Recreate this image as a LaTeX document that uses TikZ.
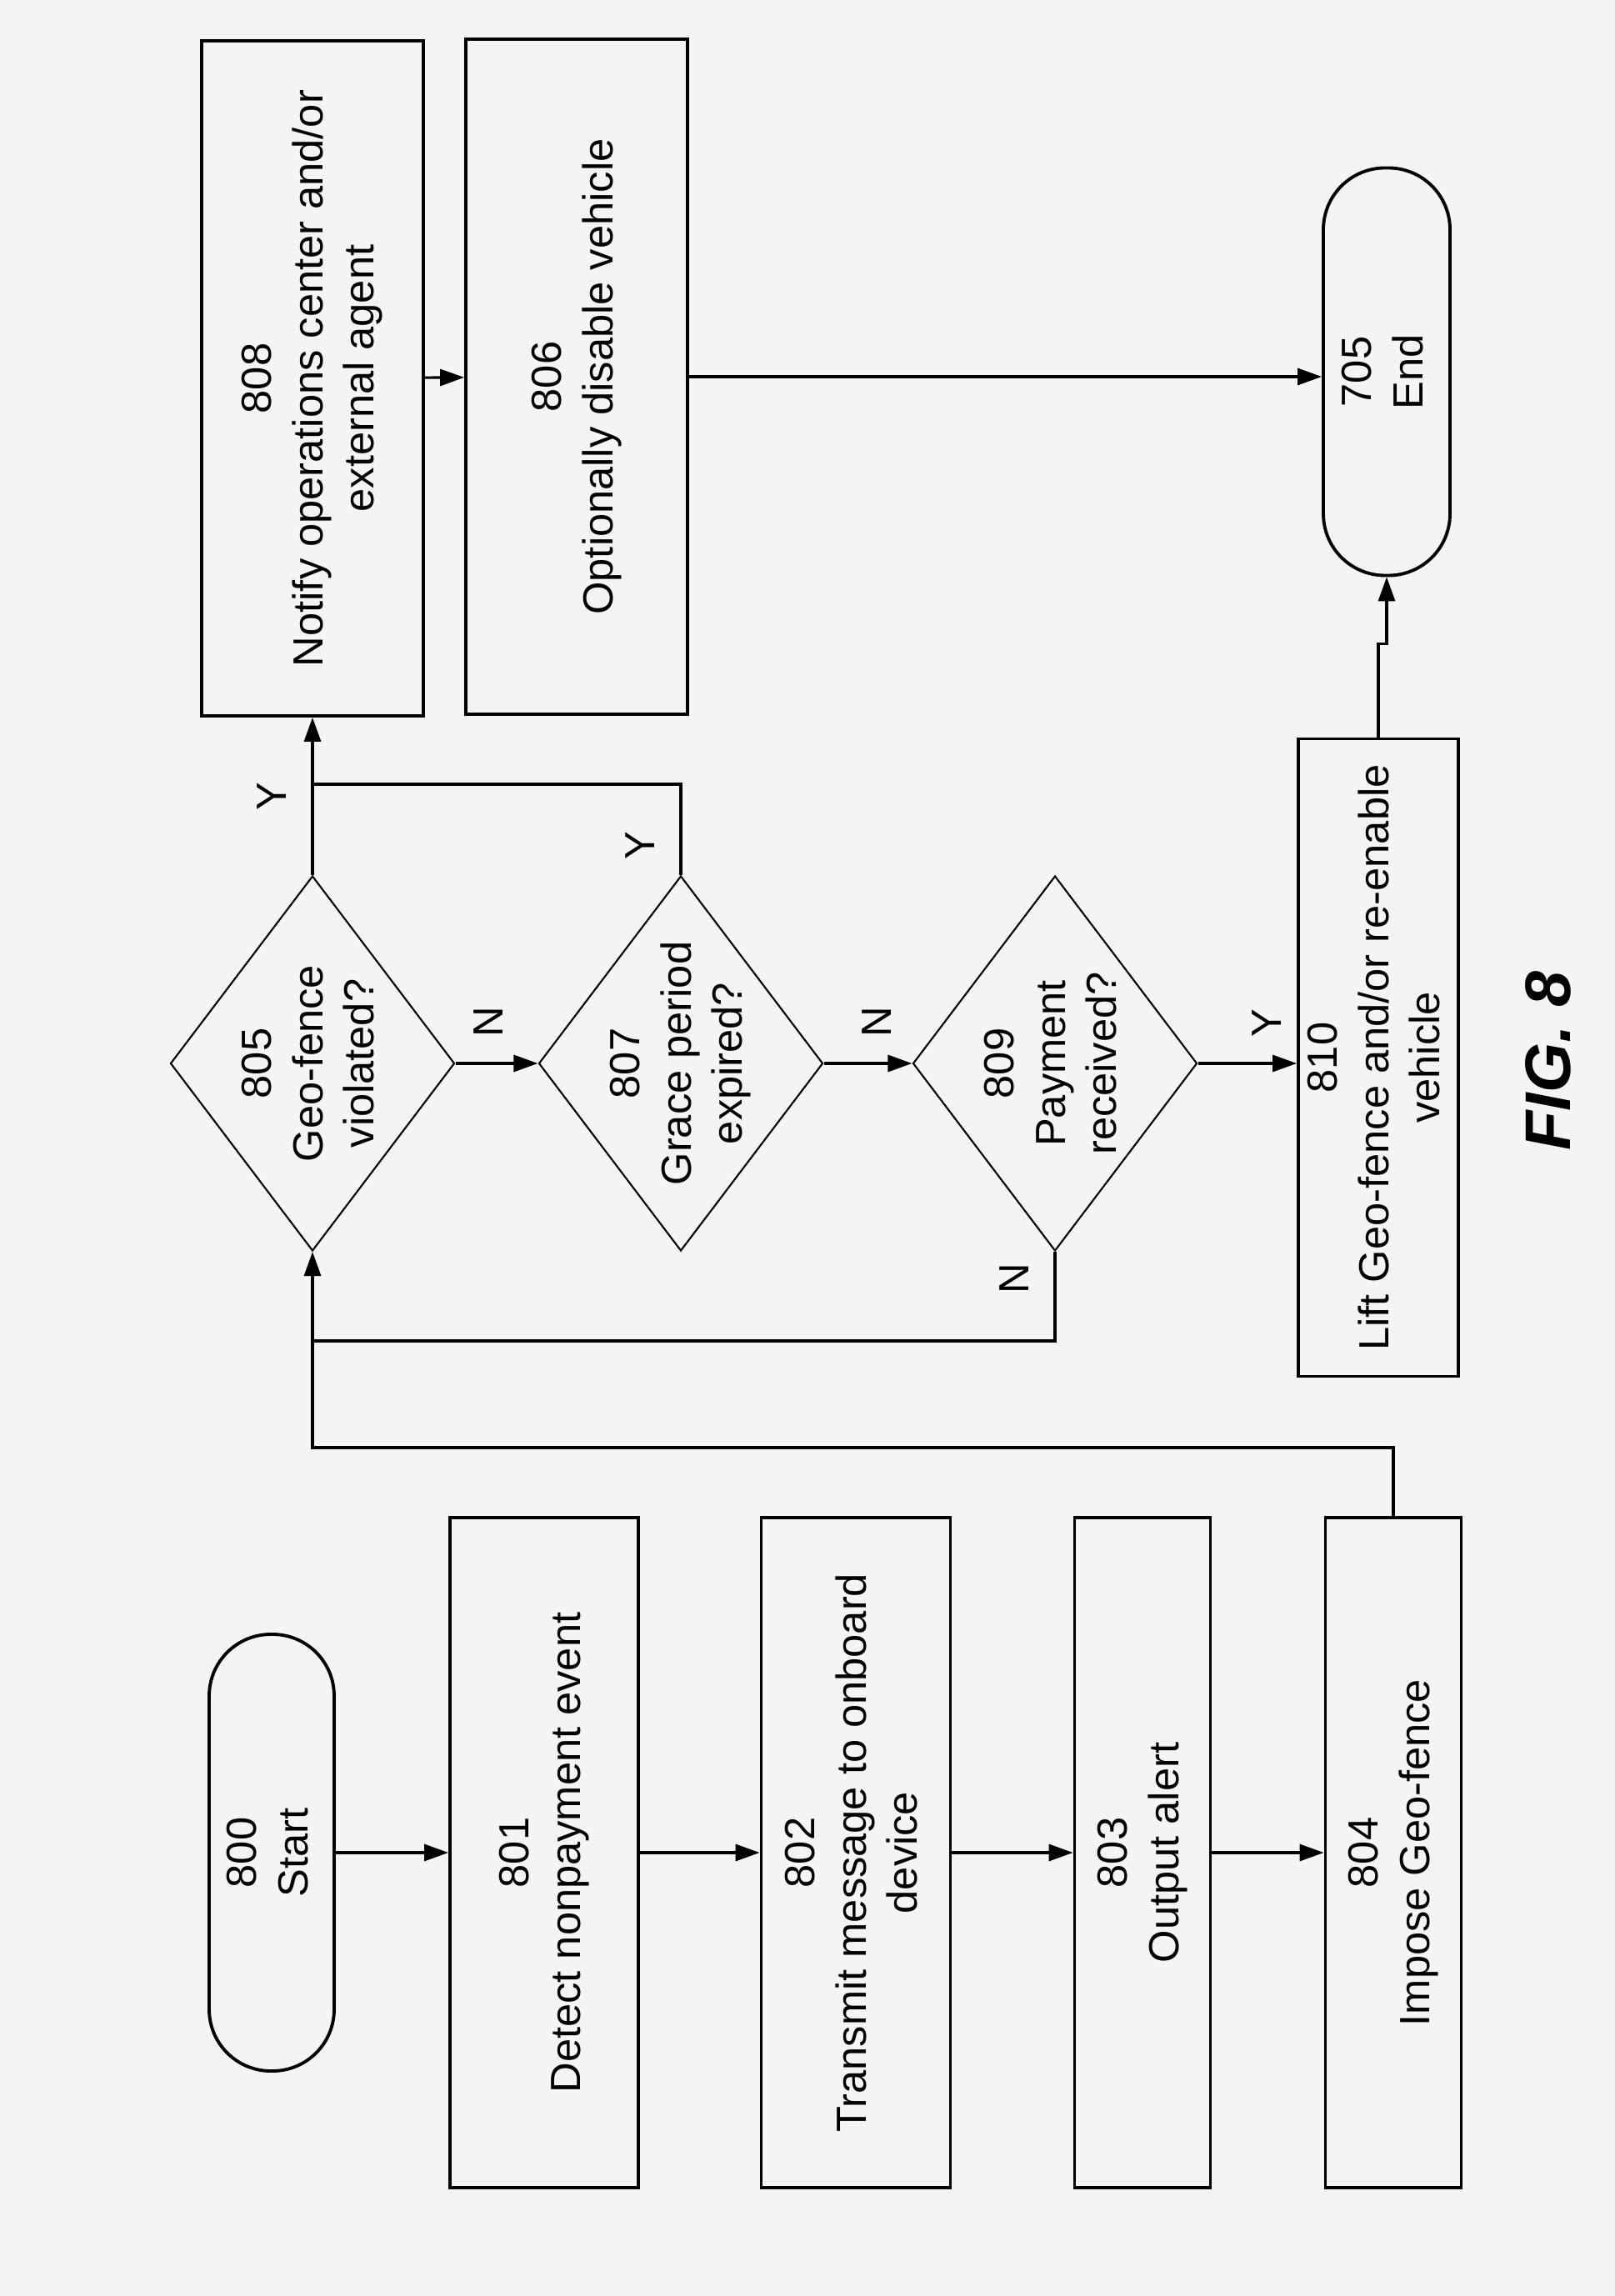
\documentclass[tikz,border=0pt]{standalone}
\usepackage{fontspec}
\setmainfont{Liberation Sans}
\usepackage{tikz}
\usetikzlibrary{positioning}
\usetikzlibrary{shapes.geometric}
\usetikzlibrary{arrows.meta}
\usetikzlibrary{calc}

\definecolor{paper}{RGB}{244,244,244}
\newcommand{\vtext}[1]{\rotatebox{90}{\begin{tabular}{@{}c@{}}#1\end{tabular}}}

\tikzset{
  process/.style={draw, line width=1.1pt, inner sep=0pt},
  terminal/.style={process, rounded corners=0.74cm},
  decision/.style={draw, diamond, line width=0.6pt, inner sep=0pt, minimum width=3.41cm, minimum height=4.5cm},
  flow/.style={line width=0.9pt, -{Triangle[length=0.29cm,width=0.2cm]}},
  line/.style={line width=0.9pt},
  yn/.style={inner sep=0pt}
}

\begin{document}
\begin{tikzpicture}[font=\fontsize{14.4}{17.5}\selectfont]
\fill[paper] (0,0) rectangle (19.38,-27.55);

% bottom row
\node[terminal, minimum width=1.50cm, minimum height=5.24cm] (start) at (3.26,-22.23) {\vtext{800\\Start}};
\node[process, minimum width=2.26cm, minimum height=8.04cm] (detect) at (6.53,-22.23) {\vtext{801\\Detect nonpayment event}};
\node[process, minimum width=2.27cm, minimum height=8.04cm] (transmit) at (10.27,-22.23) {\vtext{802\\Transmit message to onboard\\device}};
\node[process, minimum width=1.63cm, minimum height=8.04cm] (alert) at (13.71,-22.23) {\vtext{803\\Output alert}};
\node[process, minimum width=1.63cm, minimum height=8.04cm] (impose) at (16.72,-22.23) {\vtext{804\\Impose Geo-fence}};

% decisions
\node[decision, label=center:{\vtext{805\\Geo-fence\\violated?}}] (geo) at (3.75,-12.76) {};
\node[decision, label=center:{\vtext{807\\Grace period\\expired?}}] (grace) at (8.17,-12.76) {};
\node[decision, label=center:{\vtext{809\\Payment\\received?}}] (pay) at (12.66,-12.76) {};
\node[process, minimum width=1.92cm, minimum height=7.65cm] (lift) at (16.54,-12.69) {\vtext{810\\Lift Geo-fence and/or re-enable\\vehicle}};

% top row
\node[process, minimum width=2.66cm, minimum height=8.10cm] (notify) at (3.75,-4.54) {\vtext{808\\Notify operations center and/or\\external agent}};
\node[process, minimum width=2.66cm, minimum height=8.10cm] (disable) at (6.92,-4.52) {\vtext{806\\Optionally disable vehicle}};
\node[terminal, minimum width=1.52cm, minimum height=4.89cm] (end) at (16.64,-4.46) {\vtext{705\\End}};

\node[font=\fontsize{22}{26}\selectfont\bfseries\itshape] (fig) at (18.58,-12.73) {\rotatebox{90}{FIG. 8}};

\coordinate (yjoin) at (3.75,-9.41);
\coordinate (njoin) at (3.75,-16.09);

\draw[flow] (start) -- (detect);
\draw[flow] (detect) -- (transmit);
\draw[flow] (transmit) -- (alert);
\draw[flow] (alert) -- (impose);
\draw[flow] (impose.north) -- ++(0,0.82) -| (geo.south);

\draw[flow] (geo.east) -- node[yn, pos=.4, above=3mm] {\rotatebox{90}{N}} (grace.west);
\draw[flow] (grace.east) -- node[yn, pos=.6, above=3mm] {\rotatebox{90}{N}} (pay.west);
\draw[flow] (pay.east) -- node[yn, pos=.7, above=3mm] {\rotatebox{90}{Y}} (pay.east -| lift.west);
\draw[flow] (geo.north) -- node[yn, midway, left=3mm] {\rotatebox{90}{Y}} (geo.north |- notify.south);
\draw[line] (grace.north) |- node[yn, pos=.16, left=3mm] {\rotatebox{90}{Y}} (yjoin);
\draw[line] (pay.south) |- node[yn, pos=.15, left=3mm] {\rotatebox{90}{N}} (njoin);

\draw[flow] (notify) -- (disable);
\draw[flow] (disable.east) -- (disable.east -| end.west);
\draw[flow] (lift.north) -- ++(0,1.12) -| (end.south);
\end{tikzpicture}
\end{document}
